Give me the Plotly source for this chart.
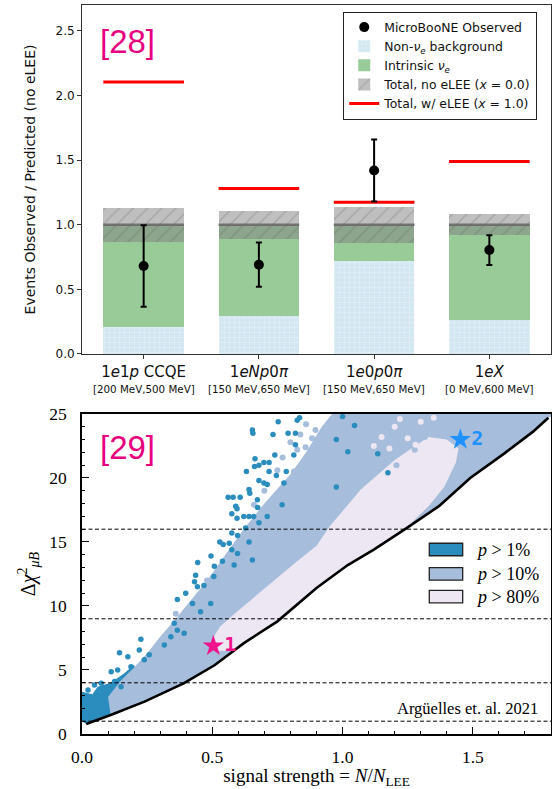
import numpy as np
import plotly.graph_objects as go

# ===================== Panel [28]: MicroBooNE ratios =====================
channels = ["1<i>e</i>1<i>p</i> CCQE", "1<i>eNp</i>0<i>π</i>",
            "1<i>e</i>0<i>p</i>0<i>π</i>", "1<i>eX</i>"]
energy_ranges = ["[200 MeV,500 MeV]", "[150 MeV,650 MeV]",
                 "[150 MeV,650 MeV]", "[0 MeV,600 MeV]"]
non_nue_bkg = [0.21, 0.29, 0.72, 0.26]
total_no_lee = [1.0, 1.0, 1.0, 1.0]
total_unc = [0.13, 0.11, 0.14, 0.08]
total_with_lee = [2.105, 1.28, 1.174, 1.49]
observed = [0.68, 0.69, 1.42, 0.805]
observed_err_hi = [0.316, 0.173, 0.24, 0.113]
observed_err_lo = [0.314, 0.17, 0.24, 0.116]

# ===================== Panel [29]: Δχ² vs signal strength =====================
# lower envelope (black curve)
envelope_x = [0.016, 0.11, 0.24, 0.39, 0.51, 0.62, 0.75, 0.90, 1.02, 1.12,
              1.24, 1.37, 1.49, 1.62, 1.73, 1.79]
envelope_y = [0.78, 1.48, 2.53, 3.96, 5.39, 7.08, 8.8, 11.4, 13.2, 14.4,
              16.0, 17.8, 20.0, 21.9, 23.6, 24.7]

# upper edge of the dense p>1% patch near the origin
p1_edge_x = [0.0, 0.04, 0.06, 0.11, 0.16, 0.20]
p1_edge_y = [3.3, 3.1, 3.7, 4.0, 4.7, 5.4]

# upper edge of the dense p>10% band
p10_edge_x = [0.10, 0.15, 0.20, 0.25, 0.30, 0.36, 0.42, 0.48, 0.55, 0.62,
              0.70, 0.80, 0.86, 0.92, 0.96]
p10_edge_y = [2.9, 4.2, 5.2, 6.3, 7.6, 9.0, 10.5, 12.0, 14.0, 16.0,
              18.0, 20.3, 22.0, 24.0, 25.0]

# outline of the p>80% region above the envelope
p80_edge_x = [0.58, 0.52, 0.50, 0.53, 0.58, 0.64, 0.72, 0.82, 0.90, 0.95,
              1.07, 1.20, 1.33, 1.40, 1.445, 1.435, 1.39, 1.33, 1.27]
p80_edge_y = [6.5, 6.5, 7.4, 8.4, 9.3, 10.3, 11.7, 13.4, 14.7, 16.2,
              19.1, 21.4, 23.2, 23.0, 22.3, 21.2, 19.3, 17.8, 16.6]

# isolated toy points, p>1%
p1_points = [
    (0.753, 24.4), (0.826, 24.5), (0.835, 24.7), (0.654, 23.75), (0.656, 23.5),
    (0.733, 23.4), (0.791, 23.5), (0.819, 23.5), (0.819, 22.6), (0.813, 21.8),
    (0.740, 21.8), (0.664, 21.5), (0.698, 21.2), (0.718, 21.2), (0.679, 21.0),
    (0.662, 20.9), (0.631, 20.5), (0.784, 20.5), (0.718, 20.5), (0.746, 20.2),
    (0.679, 19.8), (0.698, 19.6), (0.711, 19.5), (0.775, 19.6), (0.641, 19.1),
    (0.644, 18.8), (0.561, 18.5), (0.580, 18.5), (0.607, 18.5), (0.673, 18.3),
    (0.590, 17.8), (0.595, 17.6), (0.768, 17.9), (0.674, 17.7), (0.575, 17.2),
    (0.621, 17.0), (0.641, 17.0), (0.659, 17.0), (0.595, 16.85), (0.711, 17.0),
    (0.679, 16.5), (0.628, 16.1), (0.575, 15.7), (0.597, 15.5), (0.529, 15.0),
    (0.542, 14.8), (0.565, 14.9), (0.575, 14.4), (0.597, 14.1), (0.641, 15.0),
    (0.495, 13.9), (0.444, 13.4), (0.539, 13.5), (0.508, 13.1), (0.584, 13.2),
    (0.654, 13.6), (0.436, 12.4), (0.432, 11.9), (0.443, 11.5), (0.468, 11.6),
    (0.506, 12.3), (0.398, 11.0), (0.366, 10.5), (0.424, 10.2), (0.494, 10.2),
    (0.455, 9.55), (0.354, 8.65), (0.366, 8.1), (0.341, 7.6), (0.392, 7.87),
    (0.226, 7.4), (0.316, 6.95), (0.144, 6.35), (0.176, 6.04), (0.220, 6.56),
    (0.239, 5.8), (0.258, 6.2), (0.112, 4.87), (0.137, 5.0), (0.188, 5.26),
    (0.074, 3.96), (0.048, 3.83), (0.023, 3.44), (0.010, 2.9), (0.125, 4.1),
    (0.150, 3.7), (1.000, 24.8), (1.046, 24.1), (0.976, 23.0), (1.020, 22.05),
    (1.135, 21.9), (1.174, 20.4), (0.976, 19.3),
]

# isolated toy points, p>10%
p10_points = [
    (0.947, 24.3), (0.972, 24.5), (1.0, 24.7), (0.896, 23.75), (0.927, 23.5),
    (0.959, 23.6), (0.838, 23.4), (0.883, 23.1), (0.921, 22.8), (0.908, 22.6),
    (0.978, 23.0), (0.826, 22.2), (0.858, 22.4), (0.953, 22.2), (0.991, 22.2),
    (0.921, 21.4), (0.896, 21.7), (0.858, 21.5), (0.966, 21.3), (0.813, 20.5),
    (0.845, 20.1), (0.868, 20.8), (0.806, 19.8), (0.896, 20.8), (0.921, 20.2),
    (0.826, 19.1), (0.845, 18.4), (0.781, 18.4), (0.858, 18.9), (0.743, 17.5),
    (0.787, 17.5), (0.692, 17.5), (0.737, 17.0), (0.718, 16.3), (0.698, 15.7),
    (0.679, 15.3), (0.641, 15.2), (0.622, 14.4), (0.959, 24.5), (1.01, 24.4),
    (1.061, 24.8), (1.112, 24.4), (1.163, 24.7), (1.226, 24.5), (1.277, 24.3),
    (1.328, 24.7), (0.972, 23.4), (1.023, 23.5), (1.08, 23.75), (1.137, 23.5),
    (1.195, 23.6), (1.252, 23.5), (1.316, 23.2), (0.991, 22.4), (1.048, 22.3),
    (1.106, 22.7), (1.163, 22.4), (1.22, 22.6), (1.277, 22.2), (0.966, 21.4),
    (1.023, 21.1), (1.087, 21.5), (1.144, 21.4), (1.207, 21.0), (0.997, 20.1),
    (1.061, 20.4), (1.125, 20.5), (0.959, 18.8), (1.01, 19.2), (0.36, 9.4),
    (0.45, 10.8), (0.50, 11.6), (0.55, 12.6), (0.60, 13.5), (0.48, 12.0),
    (0.30, 7.0), (0.27, 6.3), (0.70, 19.0), (0.75, 20.6), (0.77, 21.6),
    (0.80, 22.8), (0.86, 24.2), (0.66, 17.9),
]

# isolated toy points, p>80%
p80_points = [
    (1.15, 23.2), (1.20, 24.0), (1.25, 23.1), (1.30, 24.4), (1.18, 22.3),
    (1.12, 22.5), (1.28, 22.6), (1.22, 24.6), (1.35, 24.7),
]

chi2_levels = [1, 4, 9, 16]
best_fits_x = [0.504, 1.452]
best_fits_y = [6.88, 23.0]
best_fit_labels = ["1", "2"]
best_fit_colors = ["#f0148c", "#1e90ff"]
legend_labels = ["<i>p</i> &gt; 1%", "<i>p</i> &gt; 10%", "<i>p</i> &gt; 80%"]

C_P1 = "#2b8cbe"
C_P10 = "#a6bddb"
C_P80 = "#ece7f2"
MAGENTA = "#e6007e"
SERIF = "Liberation Serif"

BAR_W = 0.7
idx = np.arange(len(channels))


def hsegments(centers, levels, half):
    xs, ys = [], []
    for c, v in zip(centers, levels):
        xs += [c - half, c + half, None]
        ys += [v, v, None]
    return xs, ys


fig = go.Figure()

# ---------- top panel ----------
bkg = np.array(non_nue_bkg)
tot = np.array(total_no_lee)
unc = np.array(total_unc)

fig.add_trace(go.Bar(
    x=idx, y=bkg, base=0, width=BAR_W, xaxis="x", yaxis="y",
    name="Non-<i>ν</i><sub><i>e</i></sub> background", legendrank=2,
    marker=dict(color="#d2e7f1", line=dict(width=0),
                pattern=dict(shape="+", bgcolor="#d2e7f1", fgcolor="#eaf4f9",
                             size=5, solidity=0.35)),
))
fig.add_trace(go.Bar(
    x=idx, y=tot - bkg, base=bkg, width=BAR_W, xaxis="x", yaxis="y",
    name="Intrinsic <i>ν</i><sub><i>e</i></sub>", legendrank=3,
    marker=dict(color="#99cb99", line=dict(width=0)),
))
fig.add_trace(go.Bar(
    x=idx, y=2 * unc, base=tot - unc, width=BAR_W, xaxis="x", yaxis="y",
    name="Total, no eLEE (<i>x</i> = 0.0)", legendrank=4,
    marker=dict(color="rgba(128,128,128,0.5)", line=dict(width=0),
                pattern=dict(shape="/", bgcolor="rgba(128,128,128,0.5)",
                             fgcolor="rgba(85,85,85,0.55)", size=10, solidity=0.12)),
))
cx, cy = hsegments(idx, tot, BAR_W / 2)
fig.add_trace(go.Scatter(
    x=cx, y=cy, mode="lines", xaxis="x", yaxis="y", showlegend=False,
    line=dict(color="rgba(105,105,105,0.9)", width=2.5),
))
rx, ry = hsegments(idx, total_with_lee, BAR_W / 2)
fig.add_trace(go.Scatter(
    x=rx, y=ry, mode="lines", xaxis="x", yaxis="y",
    name="Total, w/ eLEE (<i>x</i> = 1.0)", legendrank=5,
    line=dict(color="red", width=3),
))
fig.add_trace(go.Scatter(
    x=idx, y=observed, mode="markers", xaxis="x", yaxis="y",
    name="MicroBooNE Observed", legendrank=1,
    marker=dict(color="black", size=10),
    error_y=dict(type="data", array=observed_err_hi, arrayminus=observed_err_lo,
                 color="black", thickness=2, width=3),
))

# ---------- bottom panel ----------
env_x = np.array(envelope_x)
env_y = np.array(envelope_y)

# dense p>1% patch: its upper edge, then back along the envelope
m1 = env_x <= 0.24
poly1_x = [0.0] + p1_edge_x + list(env_x[m1][::-1])
poly1_y = [1.0] + p1_edge_y + list(env_y[m1][::-1])
fig.add_trace(go.Scatter(
    x=poly1_x, y=poly1_y, fill="toself", fillcolor=C_P1, mode="lines",
    line=dict(width=0, color=C_P1), xaxis="x2", yaxis="y2", showlegend=False,
))

# dense p>10% band: envelope, right edge at the top, back along its upper edge
m10 = env_x >= 0.11
poly10_x = list(env_x[m10]) + [1.8, 1.8] + p10_edge_x[::-1]
poly10_y = list(env_y[m10]) + [24.8, 25.0] + p10_edge_y[::-1]
fig.add_trace(go.Scatter(
    x=poly10_x, y=poly10_y, fill="toself", fillcolor=C_P10, mode="lines",
    line=dict(width=0, color=C_P10), xaxis="x2", yaxis="y2", showlegend=False,
))

# p>80% region: its outline, closed along the envelope
m80 = (env_x > 0.58) & (env_x < 1.27)
poly80_x = p80_edge_x + list(env_x[m80][::-1])
poly80_y = p80_edge_y + list(env_y[m80][::-1])
fig.add_trace(go.Scatter(
    x=poly80_x, y=poly80_y, fill="toself", fillcolor=C_P80, mode="lines",
    line=dict(width=0, color=C_P80), xaxis="x2", yaxis="y2", showlegend=False,
))

for pts, col, sz in [(p10_points, C_P10, 6), (p80_points, C_P80, 6), (p1_points, C_P1, 5.5)]:
    px_, py_ = zip(*pts)
    fig.add_trace(go.Scatter(
        x=px_, y=py_, mode="markers", xaxis="x2", yaxis="y2", showlegend=False,
        marker=dict(color=col, size=sz, line=dict(width=0)),
    ))

fig.add_trace(go.Scatter(
    x=envelope_x, y=envelope_y, mode="lines", xaxis="x2", yaxis="y2",
    showlegend=False, line=dict(color="black", width=2.6),
))

for bx, by, lab, col in zip(best_fits_x, best_fits_y, best_fit_labels, best_fit_colors):
    fig.add_trace(go.Scatter(
        x=[bx], y=[by], mode="markers+text", xaxis="x2", yaxis="y2", showlegend=False,
        marker=dict(symbol="star", size=16, color=col, line=dict(width=0)),
        text=[f"<b>{lab}</b>"], textposition="middle right",
        textfont=dict(family="DejaVu Sans Mono", size=20, color=col),
    ))

shapes = []
for lvl in chi2_levels:
    shapes.append(dict(type="line", xref="x2 domain", yref="y2", x0=0, x1=1,
                       y0=lvl, y1=lvl, layer="above",
                       line=dict(color="black", width=1, dash="4px,2.5px")))

# legend patches of the lower panel
legend_rows = [(0.557, 0.596), (0.481, 0.520), (0.410, 0.449)]
annotations = []
for (y0, y1), col, lab in zip(legend_rows, [C_P1, C_P10, C_P80], legend_labels):
    shapes.append(dict(type="rect", xref="x2 domain", yref="y2 domain",
                       x0=0.7405, x1=0.8117, y0=y0, y1=y1, fillcolor=col,
                       line=dict(color="#222", width=1.3), layer="above"))
    annotations.append(dict(xref="x2 domain", yref="y2 domain", x=0.836,
                            y=(y0 + y1) / 2, text=lab, showarrow=False,
                            xanchor="left", yanchor="middle",
                            font=dict(family=SERIF, size=18, color="black")))

for i, rng in enumerate(energy_ranges):
    annotations.append(dict(xref="x", yref="y domain", x=idx[i], y=-0.100,
                            text=rng, showarrow=False, xanchor="center",
                            yanchor="middle",
                            font=dict(family="DejaVu Sans", size=10.3, color="#111")))

annotations.append(dict(xref="x", yref="y", x=-0.14, y=2.42, text="[28]",
                        showarrow=False, xanchor="center", yanchor="middle",
                        font=dict(family="Liberation Sans", size=33, color=MAGENTA)))
annotations.append(dict(xref="x2", yref="y2", x=0.173, y=22.4, text="[29]",
                        showarrow=False, xanchor="center", yanchor="middle",
                        font=dict(family="Liberation Sans", size=33, color=MAGENTA)))
annotations.append(dict(xref="x2", yref="y2", x=1.757, y=2.0,
                        text="Argüelles et. al. 2021", showarrow=False,
                        xanchor="right", yanchor="middle",
                        font=dict(family=SERIF, size=16.5, color="black")))

fig.update_layout(
    width=552, height=789,
    margin=dict(l=82, r=1, t=5, b=55, autoexpand=False),
    paper_bgcolor="white", plot_bgcolor="white",
    barmode="overlay", bargap=0,
    font=dict(family="DejaVu Sans", color="#111"),
    shapes=shapes, annotations=annotations,
    legend=dict(x=0.557, y=0.991, xanchor="left", yanchor="top",
                bgcolor="white", bordercolor="#222", borderwidth=1,
                font=dict(family="DejaVu Sans", size=12.4, color="#111"),
                tracegroupgap=0, itemwidth=30),
    xaxis=dict(domain=[0, 1], anchor="y", range=[-0.535, 3.535],
               tickvals=idx, ticktext=channels, ticks="outside", ticklen=4,
               tickcolor="#333", showline=True, linecolor="#333", linewidth=1,
               mirror=True, showgrid=False, zeroline=False, ticklabelstandoff=0,
               tickfont=dict(family="DejaVu Sans", size=15, color="#111")),
    yaxis=dict(domain=[0.5213, 1], anchor="x", range=[0, 2.7], dtick=0.5,
               tickformat=".1f", ticks="outside", ticklen=4, tickcolor="#333",
               showline=True, linecolor="#333", linewidth=1, mirror=True,
               showgrid=False, zeroline=False,
               tickfont=dict(family="DejaVu Sans", size=12, color="#111"),
               title=dict(text="Events Observed / Predicted (no eLEE)",
                          font=dict(family="DejaVu Sans", size=14, color="#111"),
                          standoff=16)),
    xaxis2=dict(domain=[0, 1], anchor="y2", range=[0, 1.8], dtick=0.5,
                tickformat=".1f", ticks="inside", ticklen=7, tickcolor="black",
                minor=dict(dtick=0.1, ticks="inside", ticklen=3.5, tickcolor="black"),
                showline=True, linecolor="black", linewidth=1.6, mirror=True,
                showgrid=False, zeroline=False, ticklabelstandoff=6,
                tickfont=dict(family=SERIF, size=17.5, color="black"),
                title=dict(text="signal strength = <i>N</i>/<i>N</i><sub>LEE</sub>",
                           font=dict(family=SERIF, size=19, color="black"),
                           standoff=6)),
    yaxis2=dict(domain=[0, 0.439], anchor="x2", range=[0, 25], dtick=5,
                ticks="inside", ticklen=7, tickcolor="black",
                minor=dict(dtick=1, ticks="inside", ticklen=3.5, tickcolor="black"),
                showline=True, linecolor="black", linewidth=1.6, mirror=True,
                showgrid=False, zeroline=False, ticklabelstandoff=10,
                tickfont=dict(family=SERIF, size=17.5, color="black"),
                title=dict(text="Δ<i>χ</i><sup>2</sup><sub><i>μB</i></sub>",
                           font=dict(family=SERIF, size=20, color="black"),
                           standoff=8)),
)

fig.write_html("out.html")
